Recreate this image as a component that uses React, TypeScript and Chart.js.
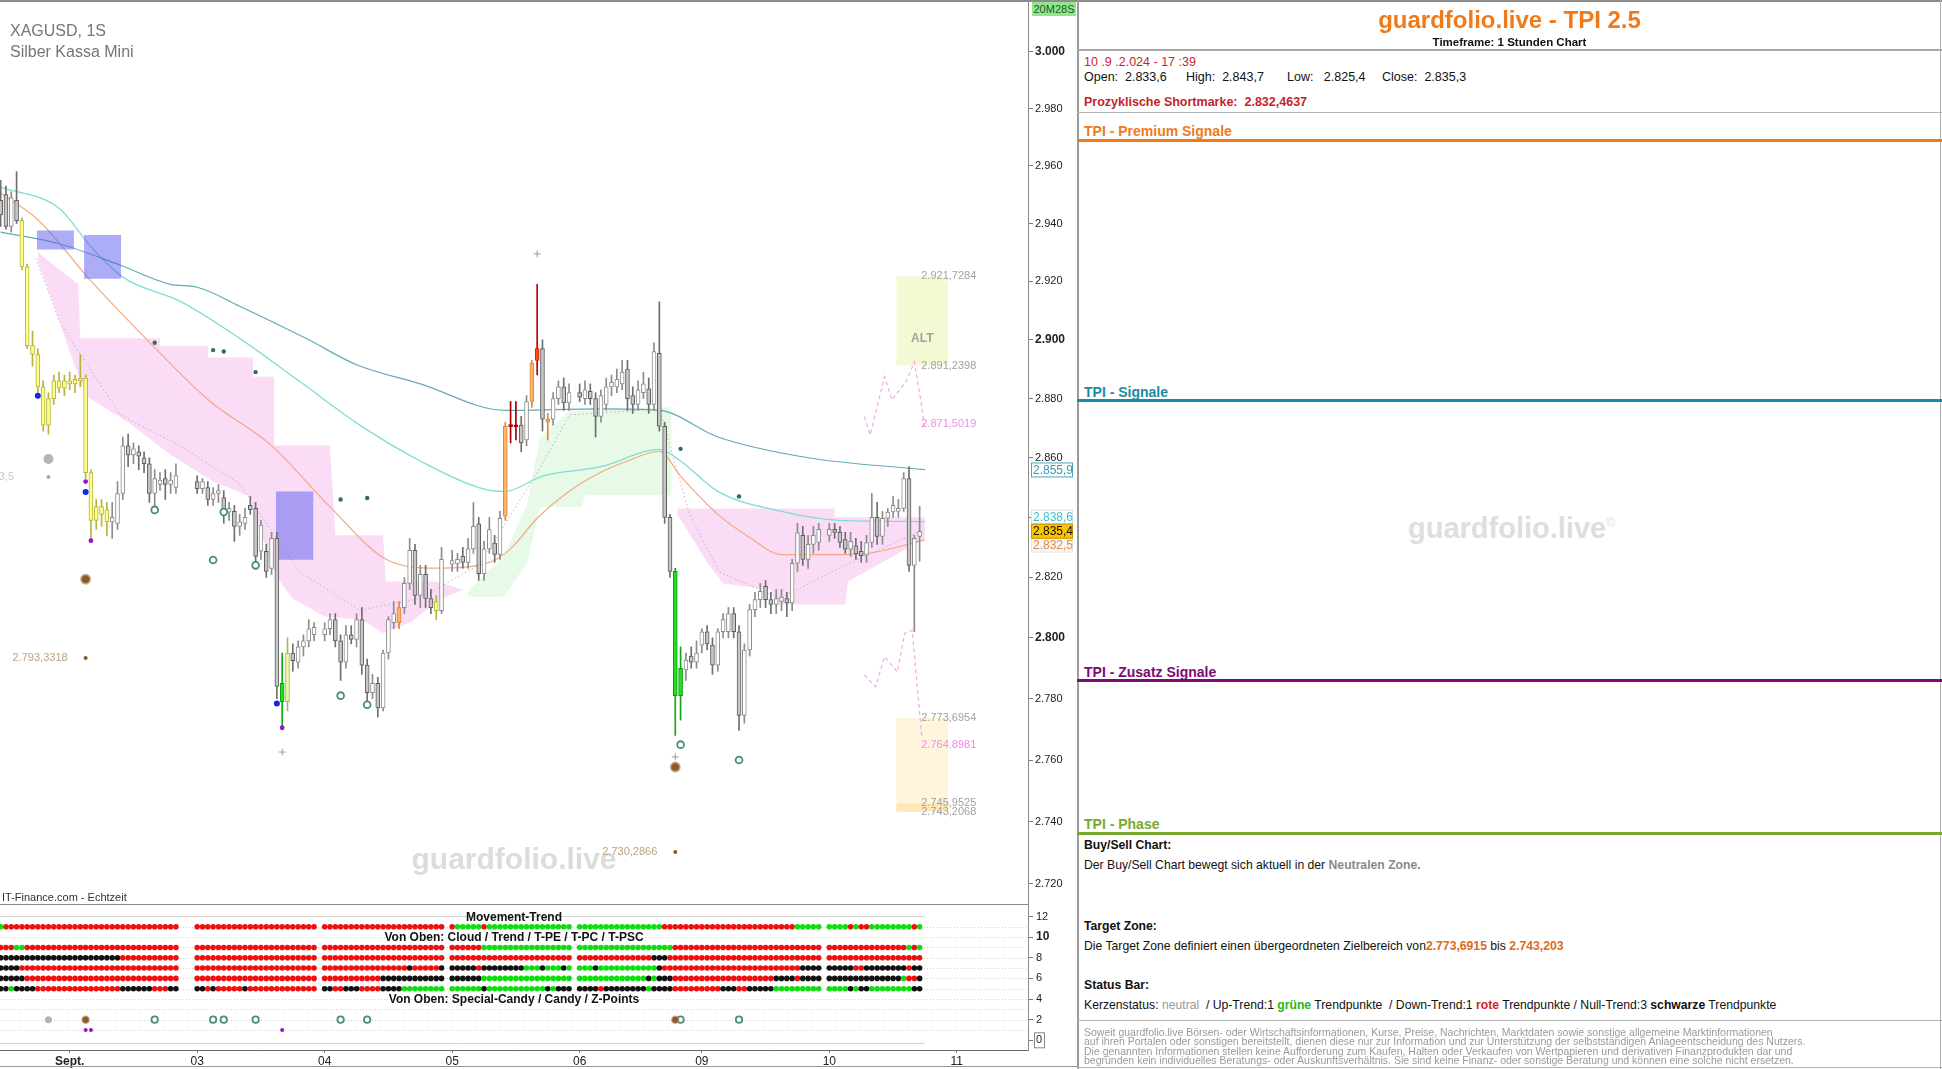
import React, { useEffect, useRef } from "react";
import { Chart, registerables } from "chart.js";

Chart.register(...registerables);

const FONT = '"Liberation Sans", Arial, Helvetica, sans-serif';
Chart.defaults.font.family = FONT;

type OHLC = [number, number, number, number]; // open, high, low, close
type Pt = [number, number]; // slot, price
type Run = [number, number, string]; // from slot, to slot, colour code

// ---------------- price data (hourly slots) ----------------
const candlesAug30Sep02: OHLC[] = [
  [2948, 2955, 2939, 2943], [2950, 2953, 2938, 2939], [2939, 2951, 2937, 2949], [2948, 2958, 2940, 2941],
  [2941, 2942, 2924, 2925], [2925, 2926, 2897, 2898], [2898, 2903, 2891, 2895], [2895, 2897, 2882, 2884],
  [2884, 2886, 2869, 2871], [2871, 2882, 2868, 2880], [2880, 2888, 2878, 2886], [2886, 2889, 2882, 2883.5],
  [2883.5, 2888, 2881, 2886], [2886, 2889, 2883, 2885], [2885, 2888, 2882, 2886.5], [2886, 2895, 2884, 2887],
  [2887, 2888, 2853, 2855], [2855, 2856, 2833, 2839], [2839, 2846, 2836, 2843.6], [2843.6, 2846, 2837, 2841],
  [2842.5, 2845, 2834, 2838.5], [2838.5, 2845, 2833, 2840], [2838, 2852, 2836, 2848], [2848, 2867, 2846, 2864],
  [2864, 2868, 2857, 2861], [2861, 2865, 2858, 2863], [2862, 2864, 2856, 2860.5], [2860, 2862, 2855, 2858],
  [2858, 2860, 2845, 2848], [2848, 2856, 2842, 2853], [2851, 2855, 2849, 2852.5], [2853, 2856, 2846, 2851],
  [2851, 2855, 2848, 2852.5], [2850, 2858, 2848, 2854],
];
const candlesSep03: OHLC[] = [
  [2852, 2854, 2848, 2849.6], [2849.6, 2853, 2848, 2852], [2850, 2852, 2844, 2846], [2846, 2850, 2844, 2848],
  [2848, 2851, 2845, 2849], [2846.6, 2849, 2838, 2841.7], [2841.7, 2845, 2839, 2843], [2842, 2844, 2832, 2837],
  [2837, 2841, 2834, 2838.5], [2838, 2843, 2836, 2840], [2844, 2847, 2841, 2842.6], [2843, 2845, 2824, 2827],
  [2828.7, 2839, 2826, 2837.4], [2828.7, 2831, 2820, 2822], [2823, 2835, 2821, 2833], [2833, 2835, 2780, 2784],
  [2785, 2795, 2770, 2779], [2779, 2800, 2776, 2795], [2795, 2798, 2789, 2792.5], [2792, 2799, 2790, 2797],
  [2797, 2801, 2794, 2799], [2799, 2806, 2797, 2803], [2801, 2805, 2799, 2803.5],
];
const candlesSep04: OHLC[] = [
  [2801, 2805, 2799, 2803], [2803, 2808, 2801, 2806], [2806, 2808, 2797, 2799], [2799, 2801, 2786, 2792],
  [2792, 2804, 2790, 2801], [2801, 2804, 2798, 2799.5], [2799.5, 2808, 2797, 2806], [2806, 2810, 2788, 2791],
  [2791, 2793, 2778, 2782], [2782, 2788, 2780, 2785], [2785, 2787, 2774, 2777], [2777, 2796, 2776, 2795],
  [2795, 2807, 2793, 2806], [2805, 2812, 2803, 2808], [2805, 2812, 2803, 2810], [2810, 2820, 2808, 2818],
  [2818, 2833, 2816, 2829], [2829, 2831, 2811, 2814], [2814, 2824, 2810, 2821], [2821, 2824, 2810, 2813],
  [2813, 2816, 2808, 2810], [2812, 2814, 2806, 2809], [2809, 2830, 2808, 2826],
];
const candlesSep05: OHLC[] = [
  [2824.4, 2829, 2822, 2825.6], [2824.5, 2828, 2822, 2826], [2827, 2830, 2823, 2825], [2825, 2833, 2823, 2829.5],
  [2829.5, 2845, 2828, 2837], [2837.8, 2840, 2819, 2821.2], [2821.2, 2832, 2819, 2829.5], [2829.5, 2840, 2828, 2835.9],
  [2831.4, 2834, 2825, 2827.6], [2827.6, 2842, 2826, 2839.7], [2840.4, 2872, 2839, 2870.6], [2870.5, 2879, 2865, 2871.2],
  [2871, 2879, 2866, 2870.4], [2871, 2874, 2862, 2865], [2866, 2881, 2864, 2879], [2879, 2893, 2877, 2892],
  [2893, 2919, 2888, 2897], [2897, 2900, 2869, 2873], [2873, 2875, 2866, 2872], [2873, 2882, 2871, 2880],
  [2880, 2886, 2878, 2884], [2884, 2887, 2876, 2878.5], [2878.5, 2885, 2876, 2882],
];
const candlesSep06: OHLC[] = [
  [2882, 2885, 2879, 2880.5], [2880, 2886, 2878, 2883], [2882.5, 2885, 2878, 2880], [2880, 2882, 2867, 2874],
  [2874, 2883, 2872, 2881], [2878, 2887, 2876, 2884], [2884, 2888, 2881, 2885.5], [2884, 2890, 2882, 2886.5],
  [2885, 2893, 2883, 2889], [2890, 2893, 2876, 2880], [2881, 2884, 2875, 2878], [2878, 2886, 2876, 2883],
  [2882, 2889, 2880, 2885], [2883.3, 2887, 2875, 2878], [2878, 2899, 2876, 2896], [2895.4, 2913, 2869, 2870.7],
  [2870.6, 2872, 2838, 2840], [2840, 2841, 2820, 2822], [2822, 2823, 2768, 2781], [2781, 2797, 2773, 2790],
  [2789.4, 2795, 2786, 2792.7], [2794, 2797, 2790, 2792], [2792, 2799, 2790, 2795],
];
const candlesSep09: OHLC[] = [
  [2797.6, 2803, 2795, 2802], [2802, 2804, 2796, 2798], [2797.6, 2800, 2788, 2791], [2791, 2803, 2789, 2802],
  [2802, 2808, 2800, 2806], [2802, 2810, 2800, 2808], [2808, 2810, 2800, 2802], [2802, 2804, 2769.6, 2774.5],
  [2774.5, 2798, 2772, 2796], [2796, 2811, 2794, 2809.3], [2809.3, 2815, 2807, 2812.6], [2812.6, 2818, 2810, 2815.4],
  [2817, 2819, 2810, 2812.6], [2812.6, 2815, 2808, 2811], [2811, 2816, 2808, 2813], [2812, 2816, 2809, 2813.5],
  [2813, 2815, 2807, 2811.5], [2811.5, 2826, 2809, 2824.7], [2824.7, 2838, 2822, 2834.8], [2834, 2837, 2824, 2826],
  [2826, 2834, 2823, 2831], [2831, 2837, 2828, 2834], [2831.6, 2838, 2829, 2836],
];
const candlesSep10: OHLC[] = [
  [2834, 2838, 2832, 2836], [2836, 2838, 2833, 2835], [2835, 2837, 2830, 2831.6], [2832.6, 2835, 2828, 2829.4],
  [2829.4, 2835, 2827, 2832], [2830.5, 2833, 2826, 2827.8], [2828.7, 2832, 2825, 2827.2], [2827.5, 2834, 2825, 2831.6],
  [2831.6, 2848, 2830, 2840], [2840, 2845, 2831, 2833.6], [2833.6, 2842, 2831, 2839.7], [2839.7, 2843, 2837, 2841.8],
  [2841.8, 2847, 2840, 2844], [2842, 2846, 2840, 2843], [2843, 2855, 2842, 2853], [2853, 2857, 2822, 2824],
  [2824, 2834, 2802, 2833], [2833.6, 2843.7, 2825.4, 2835.3],
];
const segmentStartSlots = [0, 37, 61, 85, 109, 132, 156];
const gapSlots = [34, 35, 36, 60, 84, 108, 155];

// candles coloured by the indicator
const yellowSlots = [4, 5, 6, 7, 8, 9, 10, 11, 12, 13, 14, 15, 16, 17, 18, 19, 20, 82];
const greenSlots = [53, 127, 128];
const limeSlots = [54];
const orangeSlots = [75, 95, 100, 103];
const redSlots = [101];
const darkRedSlots = [96, 97];

// moving averages
const maSlowPts: Pt[] = [[0, 2937], [11, 2933], [22, 2926], [32, 2919], [37, 2918], [45, 2911.5], [58, 2900], [67, 2891.5], [79, 2885], [95, 2876], [113, 2876.5], [124, 2876], [135, 2867], [152, 2860], [174, 2856]];
const maMidPts: Pt[] = [[0, 2952.6], [11, 2945.3], [17, 2932], [23, 2921.5], [34, 2913], [45, 2900.5], [56, 2886.2], [68, 2870.6], [79, 2858.9], [90, 2850], [95, 2848.7], [102, 2853.8], [113, 2857], [124, 2862.8], [128, 2858.9], [135, 2848.7], [147, 2842], [158, 2839], [174, 2838.6]];
const maFastPts: Pt[] = [[0, 2950.6], [7, 2941.3], [17, 2920.2], [28, 2899.2], [39, 2879.7], [51, 2864.1], [62, 2843.5], [73, 2825.6], [82, 2823.1], [92, 2825], [96, 2829.5], [101, 2839.7], [107, 2848.7], [113, 2855.1], [118, 2858.9], [124, 2862.2], [128, 2853.8], [135, 2841], [141, 2833.3], [147, 2827.6], [158, 2827.6], [164, 2828.2], [174, 2832.5]];
const dottedPts: Pt[] = [[6.6, 2928], [11.2, 2905.7], [22.5, 2874.5], [33.7, 2864.1], [45, 2851.2], [56.3, 2821.8], [67.6, 2809.1], [78.9, 2813], [90.2, 2824.4], [101.5, 2856.4], [107.1, 2874.5], [124, 2876.4], [129.7, 2841], [135.3, 2821.8], [146.6, 2813], [157.9, 2823.1], [173.7, 2835.9]];

// clouds
const pinkCloud1Top: Pt[] = [[7, 2930], [14.6, 2919], [15, 2900.5], [30, 2900.5], [30, 2898], [39, 2898], [39, 2894], [47.5, 2894], [47.5, 2887.4], [51.5, 2887.4], [51.5, 2864.1], [62, 2864.1], [63, 2834], [72, 2834], [72.5, 2818.6], [82, 2818.6], [87, 2816]];
const pinkCloud1Bottom: Pt[] = [[7, 2927], [10, 2912], [13, 2896], [16, 2881], [24, 2872], [32, 2861], [40, 2852], [47, 2847], [49, 2835], [52, 2820], [55, 2813], [61, 2807], [68, 2806], [72, 2801.5], [77, 2805], [83, 2813], [87, 2815.8]];
const pinkCloud2Top: Pt[] = [[127.4, 2843], [157, 2843], [157, 2840], [174, 2840]];
const pinkCloud2Bottom: Pt[] = [[127.4, 2841], [133, 2825], [136, 2818], [145, 2816], [146, 2811], [159, 2811], [159.5, 2818.6], [164, 2823], [174, 2833]];
const greenCloudTop: Pt[] = [[88, 2815.5], [94.7, 2826.9], [99.2, 2844.8], [101.5, 2866.7], [107.1, 2875.8], [126.3, 2877.1]];
const greenCloudBottom: Pt[] = [[88, 2813.6], [94.7, 2813.6], [99.2, 2825], [101.5, 2843.5], [109.4, 2843.5], [109.9, 2847.4], [126.3, 2847.4]];

// boxes: [slotFrom, slotTo, low, high]
const boxBlue1 = [6.8, 13.8, 2931.0, 2937.6];
const boxBlue2 = [15.7, 22.7, 2920.9, 2936.0];
const boxBlue3 = [51.8, 58.9, 2825.9, 2848.7];
const boxAlt = [168.6, 178.4, 2891.2398, 2921.7284];
const boxTarget = [168.6, 178.4, 2743.2068, 2773.6954];
const boxTargetCore = [168.6, 178.4, 2743.2068, 2745.9525];

// projection paths
const forecastUpper: Pt[] = [[162.6, 2873.9], [163.7, 2867.7], [166.4, 2887.4], [167.8, 2879.5], [170.6, 2886.3], [172, 2892.5], [173.4, 2877.2], [173.9, 2870.6]];
const forecastLower: Pt[] = [[162.6, 2787.8], [164.7, 2783.9], [166.4, 2793.8], [168.8, 2788.8], [170.2, 2801.5], [171.6, 2802.5], [173, 2775.2], [173.4, 2767.6]];

// signal markers
const tealDotSlots = [29, 40, 42, 48, 64, 69, 128, 139];
const tealDotPrices = [2899, 2896.5, 2896, 2889, 2846, 2846.5, 2863, 2847];
const tealRingPrices = [2842.5, 2825.8, 2841.8, 2824, 2781, 2778, 2765, 2760];
const blueDotSlots = [7, 16, 52];
const blueDotPrices = [2881, 2848.5, 2778.4];
const purpleDotSlots = [16, 17, 53];
const purpleDotPrices = [2852, 2832.2, 2770.5];
const grayDotSlot = 9;
const grayDotPrices = [2859.6, 2853.5];
const brownSlots = [16, 127];
const brownBigPrices = [2819.4, 2757.7];
const brownSmallPrices = [2793.3318, 2730.2866];
const plusSlots = [101, 53, 127];
const plusPrices = [2929.5, 2762.6, 2761];

// level labels
const zoneLevels = [2921.7284, 2891.2398, 2773.6954, 2745.9525, 2743.2068];
const forecastLevels = [2871.5019, 2764.8981];
const cutLevel = 2853.5;
const axisSlow = 2855.9;
const axisMid = 2838.6;
const axisLast = 2835.4;
const axisFast = 2832.5;
const priceTicks = [2720, 2740, 2760, 2780, 2800, 2820, 2840, 2860, 2880, 2900, 2920, 2940, 2960, 2980, 3000];

// axis
const dayTickSlots = [13, 37, 61, 85, 109, 132, 156, 180];
const dayTickLabels = ["Sept.", "03", "04", "05", "06", "09", "10", "11"];
const indicatorTicks = [0, 2, 4, 6, 8, 10, 12];

// status bar rows
const rowMovement: Run[] = [[0, 0, "g"], [1, 84, "r"], [85, 85, "r"], [86, 90, "g"], [91, 91, "r"], [92, 124, "g"], [125, 149, "r"], [150, 159, "g"], [160, 160, "r"], [161, 161, "g"], [162, 163, "r"], [164, 171, "g"], [172, 172, "r"], [173, 173, "g"]];
const rowCloud: Run[] = [[0, 2, "r"], [3, 4, "g"], [5, 90, "r"], [91, 126, "g"], [127, 170, "r"], [171, 171, "g"], [172, 172, "r"], [173, 173, "g"]];
const rowTrend: Run[] = [[0, 22, "k"], [23, 122, "r"], [123, 125, "k"], [126, 173, "r"]];
const rowTPE: Run[] = [[0, 3, "k"], [4, 76, "r"], [77, 77, "k"], [78, 82, "r"], [83, 89, "k"], [90, 90, "r"], [91, 98, "k"], [99, 101, "g"], [102, 102, "k"], [103, 105, "g"], [106, 106, "k"], [107, 111, "g"], [112, 112, "k"], [113, 123, "g"], [124, 124, "k"], [125, 150, "r"], [151, 160, "k"], [161, 162, "r"], [163, 170, "k"], [171, 171, "r"], [172, 173, "k"]];
const rowTPC: Run[] = [[0, 4, "k"], [5, 71, "r"], [72, 90, "k"], [91, 121, "g"], [122, 122, "k"], [123, 123, "g"], [124, 126, "k"], [127, 145, "r"], [146, 149, "k"], [150, 150, "r"], [151, 169, "k"], [170, 170, "g"], [171, 172, "r"], [173, 173, "k"]];
const rowTPSC: Run[] = [[0, 1, "k"], [2, 2, "g"], [3, 6, "k"], [7, 22, "r"], [23, 28, "k"], [29, 31, "r"], [32, 38, "k"], [39, 39, "r"], [40, 40, "k"], [41, 45, "r"], [46, 46, "k"], [47, 59, "r"], [61, 62, "k"], [63, 64, "r"], [65, 67, "k"], [68, 71, "r"], [72, 75, "k"], [76, 90, "g"], [91, 91, "k"], [92, 102, "g"], [103, 103, "k"], [104, 104, "g"], [105, 112, "k"], [113, 113, "r"], [114, 121, "k"], [122, 122, "g"], [123, 126, "k"], [127, 135, "r"], [136, 138, "k"], [139, 140, "r"], [141, 145, "k"], [146, 159, "g"], [160, 160, "k"], [161, 161, "g"], [162, 163, "k"], [164, 171, "g"], [172, 173, "k"]];
const statusRows: [Run[], number][] = [[rowMovement, 11], [rowCloud, 9], [rowTrend, 8], [rowTPE, 7], [rowTPC, 6], [rowTPSC, 5]];
const candyRowPurpleSlots = [16, 17, 53];

// ---------------- helpers ----------------
const X_MIN = -0.12;
const X_MAX = 193.4;
const Y_MIN = 2713.6;
const Y_MAX = 3018.4;

function fmtDE(v: number, d: number) {
  const s = v.toFixed(d);
  const [i, f] = s.split(".");
  const ii = i.replace(/\B(?=(\d{3})+(?!\d))/g, ".");
  return f ? ii + "," + f : ii;
}

const PAL: any = {
  bull: { fill: "#ffffff", border: "#8c8c8c", wick: "#8c8c8c" },
  bear: { fill: "#c6c6c6", border: "#5c5c5c", wick: "#6e6e6e" },
  yellow: { fill: "#ffff8a", border: "#b5b53a", wick: "#b5b53a" },
  green: { fill: "#1ee01e", border: "#0f9a0f", wick: "#12a812" },
  lime: { fill: "#eaf7a6", border: "#a8b85e", wick: "#a8b85e" },
  orange: { fill: "#ffb567", border: "#de8834", wick: "#de8834" },
  red: { fill: "#ff4a1e", border: "#c82000", wick: "#c00000" },
  darkred: { fill: "#b01010", border: "#a00000", wick: "#a00000" },
};
const DOT: any = { r: "#ee1010", g: "#10dd10", k: "#111111" };

function tintOf(slot: number, bull: boolean) {
  if (yellowSlots.includes(slot)) return PAL.yellow;
  if (greenSlots.includes(slot)) return PAL.green;
  if (limeSlots.includes(slot)) return PAL.lime;
  if (orangeSlots.includes(slot)) return PAL.orange;
  if (redSlots.includes(slot)) return PAL.red;
  if (darkRedSlots.includes(slot)) return PAL.darkred;
  return bull ? PAL.bull : PAL.bear;
}

const pts = (a: Pt[]) => a.map(([x, y]) => ({ x, y }));

function lineDs(a: Pt[], color: string, width: number, order: number, extra: any = {}) {
  return { type: "line", data: pts(a), borderColor: color, borderWidth: width, pointRadius: 0, fill: false, tension: 0, order, ...extra };
}
function areaDs(top: Pt[], bottom: Pt[], color: string, order: number) {
  return [
    { type: "line", data: pts(top), borderColor: "transparent", borderWidth: 0, pointRadius: 0, fill: false, order },
    { type: "line", data: pts(bottom), borderColor: "transparent", borderWidth: 0, pointRadius: 0, fill: "-1", backgroundColor: color, order },
  ];
}
function boxDs(b: number[], color: string, order: number) {
  return areaDs([[b[0], b[3]], [b[1], b[3]]], [[b[0], b[2]], [b[1], b[2]]], color, order);
}
function markerDs(xs: number[], ys: number[], opts: any, order = 5) {
  return { type: "line", showLine: false, data: xs.map((x, i) => ({ x, y: ys[i] })), order, ...opts };
}
const noPad = (s: any) => {
  s.paddingTop = 0;
  s.paddingBottom = 0;
  s.paddingLeft = 0;
  s.paddingRight = 0;
};

function buildMainConfig(): any {
  const segs = [candlesAug30Sep02, candlesSep03, candlesSep04, candlesSep05, candlesSep06, candlesSep09, candlesSep10];
  const candles = segs.flatMap((arr, si) => arr.map((c, i) => ({ slot: segmentStartSlots[si] + i, o: c[0], h: c[1], l: c[2], c: c[3] })));
  const tints = candles.map((c) => tintOf(c.slot, c.c >= c.o));

  const datasets: any[] = [
    ...areaDs(pinkCloud1Top, pinkCloud1Bottom, "#fadcf6", 100),
    ...areaDs(pinkCloud2Top, pinkCloud2Bottom, "#fadcf6", 100),
    ...areaDs(greenCloudTop, greenCloudBottom, "#e7f9e7", 100),
    ...boxDs(boxAlt, "#f5f9d3", 95),
    ...boxDs(boxTarget, "#fff4dc", 95),
    ...boxDs(boxTargetCore, "#ffe8b6", 94),
    lineDs(dottedPts, "#c9b0c6", 1, 60, { borderDash: [1.5, 2.5] }),
    lineDs(maSlowPts, "#62aab8", 1.2, 50, { cubicInterpolationMode: "monotone" }),
    lineDs(maMidPts, "#82dcd6", 1.3, 50, { cubicInterpolationMode: "monotone" }),
    lineDs(maFastPts, "#f2a97e", 1.2, 50, { cubicInterpolationMode: "monotone" }),
    lineDs(forecastUpper, "#f2a8ea", 1.2, 45, { borderDash: [4, 3] }),
    lineDs(forecastLower, "#f2a8ea", 1.2, 45, { borderDash: [4, 3] }),
    ...boxDs(boxBlue1, "rgba(95,95,240,0.52)", 40),
    ...boxDs(boxBlue2, "rgba(95,95,240,0.52)", 40),
    ...boxDs(boxBlue3, "rgba(95,95,240,0.52)", 40),
    {
      type: "bar", data: candles.map((c) => ({ x: c.slot, y: [c.l, c.h] })),
      backgroundColor: tints.map((t) => t.wick), borderWidth: 0, barThickness: 1, grouped: false, order: 20,
    },
    {
      type: "bar", data: candles.map((c) => ({ x: c.slot, y: [Math.min(c.o, c.c), Math.max(c.o, c.c)] })),
      backgroundColor: tints.map((t) => t.fill), borderColor: tints.map((t) => t.border), borderWidth: 1,
      borderSkipped: false, barThickness: 4, minBarLength: 2, grouped: false, order: 15,
    },
    markerDs(tealDotSlots, tealDotPrices, { pointRadius: 2.2, pointBackgroundColor: "#2d6d68", pointBorderWidth: 0 }),
    markerDs(tealDotSlots, tealRingPrices, { pointRadius: 3.4, pointBackgroundColor: "#ffffff", pointBorderColor: "#4a8c7e", pointBorderWidth: 1.8 }),
    markerDs(blueDotSlots, blueDotPrices, { pointRadius: 3, pointBackgroundColor: "#1525ee", pointBorderWidth: 0 }),
    markerDs(purpleDotSlots, purpleDotPrices, { pointRadius: 2.4, pointBackgroundColor: "#9a12c2", pointBorderWidth: 0 }),
    markerDs([grayDotSlot], [grayDotPrices[0]], { pointRadius: 5, pointBackgroundColor: "#b4b4b4", pointBorderWidth: 0 }),
    markerDs([grayDotSlot], [grayDotPrices[1]], { pointRadius: 2, pointBackgroundColor: "#aaaaaa", pointBorderWidth: 0 }),
    markerDs(brownSlots, brownBigPrices, { pointRadius: 4.5, pointBackgroundColor: "#8b5a2b", pointBorderColor: "rgba(190,150,110,0.7)", pointBorderWidth: 2 }),
    markerDs(brownSlots, brownSmallPrices, { pointRadius: 2, pointBackgroundColor: "#8b5a2b", pointBorderWidth: 0 }),
    markerDs(plusSlots, plusPrices, { pointStyle: "cross", pointRadius: 3.5, pointBorderColor: "#9a9a9a", pointBorderWidth: 1 }, 4),
  ];

  const decor = {
    id: "mainDecor",
    beforeDatasetsDraw(chart: any) {
      const { ctx } = chart;
      ctx.save();
      ctx.font = `bold 30px ${FONT}`;
      ctx.fillStyle = "#dcdcdc";
      ctx.textAlign = "center";
      ctx.textBaseline = "middle";
      ctx.fillText("guardfolio.live", 514, 861);
      ctx.restore();
    },
    afterDatasetsDraw(chart: any) {
      const { ctx, scales } = chart;
      const x = scales.x, y = scales.y;
      ctx.save();
      ctx.textBaseline = "middle";
      ctx.font = `11px ${FONT}`;
      ctx.textAlign = "left";
      const lx = x.getPixelForValue(173.3);
      zoneLevels.forEach((v) => {
        ctx.fillStyle = "#a2a2a2";
        ctx.fillText(fmtDE(v, 4), lx, y.getPixelForValue(v));
      });
      forecastLevels.forEach((v) => {
        ctx.fillStyle = "#f08ee6";
        ctx.fillText(fmtDE(v, 4), lx, y.getPixelForValue(v));
      });
      ctx.font = `bold 12px ${FONT}`;
      ctx.fillStyle = "#a0a0a0";
      ctx.textAlign = "center";
      ctx.fillText("ALT", x.getPixelForValue(173.5), y.getPixelForValue(2900.5));
      ctx.font = `11px ${FONT}`;
      ctx.textAlign = "right";
      ctx.fillStyle = "#baa27e";
      brownSlots.forEach((s, i) => {
        ctx.fillText(fmtDE(brownSmallPrices[i], 4), x.getPixelForValue(s) - 18, y.getPixelForValue(brownSmallPrices[i]));
      });
      ctx.fillStyle = "#c8c8c8";
      ctx.fillText(fmtDE(cutLevel, 1), 14, y.getPixelForValue(cutLevel));
      ctx.restore();
    },
    afterDraw(chart: any) {
      const { ctx, scales, chartArea } = chart;
      const y = scales.y;
      const left = chartArea.right + 3;
      const w = 42;
      ctx.save();
      ctx.textBaseline = "middle";
      ctx.textAlign = "left";
      const tag = (val: number, py: number, bg: string, border: string, fg: string) => {
        ctx.fillStyle = bg;
        ctx.fillRect(left, py - 7.5, w, 15);
        ctx.strokeStyle = border;
        ctx.lineWidth = 1;
        ctx.strokeRect(left + 0.5, py - 7, w - 1, 14);
        ctx.fillStyle = fg;
        ctx.font = `12px ${FONT}`;
        ctx.fillText(fmtDE(val, 1), left + 2, py + 0.5);
      };
      const pLast = y.getPixelForValue(axisLast);
      const pMid = Math.min(y.getPixelForValue(axisMid), pLast - 14);
      const pFast = Math.max(y.getPixelForValue(axisFast), pLast + 14);
      tag(axisSlow, y.getPixelForValue(axisSlow), "#ffffff", "#4aa6c0", "#3a98b6");
      tag(axisMid, pMid, "#ffffff", "#cfe3ea", "#3cc2cc");
      tag(axisFast, pFast, "#f6f6f6", "#e6e6e6", "#e8894a");
      tag(axisLast, pLast, "#ffc400", "#c99400", "#111111");
      ctx.restore();
    },
  };

  return {
    type: "bar",
    data: { datasets },
    plugins: [decor],
    options: {
      responsive: false,
      animation: false,
      events: [],
      layout: { padding: 0, autoPadding: false },
      plugins: { legend: { display: false }, tooltip: { enabled: false } },
      scales: {
        x: { type: "linear", min: X_MIN, max: X_MAX, offset: false, display: false },
        y: {
          type: "logarithmic",
          position: "right",
          min: Y_MIN,
          max: Y_MAX,
          afterBuildTicks: (s: any) => { s.ticks = priceTicks.map((v) => ({ value: v })); },
          afterFit: (s: any) => { s.width = 49; noPad(s); },
          grid: { drawOnChartArea: false, drawTicks: true, tickLength: 5, color: "#777" },
          border: { display: true, color: "#8a8a8a" },
          ticks: {
            autoSkip: false,
            padding: 2,
            color: "#222",
            callback: (v: any) => fmtDE(Number(v), 0),
            font: (ctx: any) => (ctx.tick && ctx.tick.value % 100 === 0 ? { size: 12, weight: "bold" } : { size: 11 }),
          },
        },
      },
    },
  };
}

function expandRun(runs: Run[], value: number) {
  const data: any[] = [];
  const colors: string[] = [];
  runs.forEach(([a, b, c]) => {
    for (let s = a; s <= b; s++) {
      if (gapSlots.includes(s)) continue;
      data.push({ x: s, y: value });
      colors.push(DOT[c]);
    }
  });
  return { data, colors };
}

function buildIndicatorConfig(): any {
  const datasets: any[] = statusRows.map(([runs, v]) => {
    const { data, colors } = expandRun(runs, v);
    return { type: "line", showLine: false, data, pointRadius: 2.8, pointBackgroundColor: colors, pointBorderWidth: 0 };
  });
  datasets.push(markerDs([grayDotSlot], [2], { pointRadius: 3.5, pointBackgroundColor: "#b4b4b4", pointBorderWidth: 0 }));
  datasets.push(markerDs(brownSlots, [2, 2], { pointRadius: 3.5, pointBackgroundColor: "#8b5a2b", pointBorderColor: "rgba(190,150,110,0.7)", pointBorderWidth: 1.5 }));
  datasets.push(markerDs(tealDotSlots, tealDotSlots.map(() => 2), { pointRadius: 3.2, pointBackgroundColor: "#ffffff", pointBorderColor: "#4a8c7e", pointBorderWidth: 1.8 }));
  datasets.push(markerDs(candyRowPurpleSlots, candyRowPurpleSlots.map(() => 1), { pointRadius: 2, pointBackgroundColor: "#9a12c2", pointBorderWidth: 0 }));

  const decor = {
    id: "indDecor",
    beforeDatasetsDraw(chart: any) {
      const { ctx, scales, chartArea } = chart;
      const x = scales.x, y = scales.y;
      ctx.save();
      ctx.strokeStyle = "#cfcfcf";
      ctx.lineWidth = 1;
      ctx.setLineDash([1, 2]);
      for (let v = 1; v <= 11; v++) {
        const py = Math.round(y.getPixelForValue(v)) + 0.5;
        ctx.beginPath();
        ctx.moveTo(chartArea.left, py);
        ctx.lineTo(chartArea.right, py);
        ctx.stroke();
      }
      ctx.setLineDash([]);
      ctx.strokeStyle = "#d4d4d4";
      [12, -0.3].forEach((v) => {
        const py = Math.round(y.getPixelForValue(v)) + 0.5;
        ctx.beginPath();
        ctx.moveTo(chartArea.left, py);
        ctx.lineTo(x.getPixelForValue(174), py);
        ctx.stroke();
      });
      ctx.restore();
    },
    afterDatasetsDraw(chart: any) {
      const { ctx, scales, chartArea } = chart;
      const y = scales.y;
      const cx = (chartArea.left + chartArea.right) / 2;
      ctx.save();
      ctx.font = `bold 12px ${FONT}`;
      ctx.fillStyle = "#111";
      ctx.textAlign = "center";
      ctx.textBaseline = "middle";
      ctx.fillText("Movement-Trend", cx, y.getPixelForValue(11.85));
      ctx.fillText("Von Oben: Cloud / Trend / T-PE / T-PC / T-PSC", cx, y.getPixelForValue(9.96));
      ctx.fillText("Von Oben: Special-Candy / Candy / Z-Points", cx, y.getPixelForValue(3.96));
      ctx.strokeStyle = "#8a8a8a";
      ctx.beginPath();
      ctx.moveTo(0, 0.5);
      ctx.lineTo(chartArea.right, 0.5);
      ctx.stroke();
      ctx.restore();
    },
    afterDraw(chart: any) {
      const { ctx, scales, chartArea } = chart;
      const y = scales.y;
      ctx.save();
      const py = y.getPixelForValue(0);
      ctx.strokeStyle = "#888";
      ctx.strokeRect(chartArea.right + 6.5, py - 7.5, 10, 15);
      ctx.restore();
    },
  };

  return {
    type: "line",
    data: { datasets },
    plugins: [decor],
    options: {
      responsive: false,
      animation: false,
      events: [],
      layout: { padding: 0, autoPadding: false },
      plugins: { legend: { display: false }, tooltip: { enabled: false } },
      scales: {
        x: {
          type: "linear", min: X_MIN, max: X_MAX, offset: false,
          afterBuildTicks: (s: any) => { s.ticks = dayTickSlots.map((v) => ({ value: v })); },
          afterFit: (s: any) => { s.height = 19; noPad(s); },
          grid: { drawOnChartArea: false, drawTicks: true, tickLength: 3, color: "#777" },
          border: { display: true, color: "#666" },
          ticks: {
            autoSkip: false, maxRotation: 0, padding: 1, color: "#222",
            callback: (_v: any, i: number) => dayTickLabels[i],
            font: (ctx: any) => (ctx.index === 0 ? { size: 12, weight: "bold" } : { size: 12 }),
          },
        },
        y: {
          type: "linear", position: "right", min: -0.94, max: 13.21,
          afterBuildTicks: (s: any) => { s.ticks = indicatorTicks.map((v) => ({ value: v })); },
          afterFit: (s: any) => { s.width = 49; noPad(s); },
          grid: { drawOnChartArea: false, drawTicks: true, tickLength: 5, color: "#777" },
          border: { display: true, color: "#8a8a8a" },
          ticks: {
            autoSkip: false, padding: 3, color: "#222",
            callback: (v: any) => String(v),
            font: (ctx: any) => (ctx.tick && ctx.tick.value === 10 ? { size: 12, weight: "bold" } : { size: 11 }),
          },
        },
      },
    },
  };
}

// ---------------- HTML helpers ----------------
function Txt(props: any) {
  const { x, y, size, bold, color = "#111", children, center, width } = props;
  const lh = Math.round(size * 1.25);
  return (
    <div
      style={{
        position: "absolute", left: x, top: y - lh / 2, width, textAlign: center ? "center" : "left",
        fontSize: size, lineHeight: `${lh}px`, fontWeight: bold ? 700 : 400, color, whiteSpace: "pre",
      }}
    >
      {children}
    </div>
  );
}
function HLine(props: any) {
  const { x, y, w, h = 1, color } = props;
  return <div style={{ position: "absolute", left: x, top: y, width: w, height: h, background: color }} />;
}

const PX = 1077; // panel left
const PL = 1084; // panel text left
const BODY = 12.2;

export default function App() {
  const mainRef = useRef<HTMLCanvasElement>(null);
  const indRef = useRef<HTMLCanvasElement>(null);

  useEffect(() => {
    const main = new Chart(mainRef.current as any, buildMainConfig());
    const ind = new Chart(indRef.current as any, buildIndicatorConfig());
    return () => {
      main.destroy();
      ind.destroy();
    };
  }, []);

  return (
    <div style={{ position: "fixed", left: 0, top: 0, width: 1942, height: 1069, background: "#fff", overflow: "hidden", fontFamily: FONT }}>
      <canvas ref={mainRef} width={1077} height={904} style={{ position: "absolute", left: 0, top: 0, width: 1077, height: 904 }} />
      <canvas ref={indRef} width={1077} height={165} style={{ position: "absolute", left: 0, top: 904, width: 1077, height: 165 }} />

      {/* chart overlays */}
      <HLine x={0} y={0} w={1942} h={2} color="#8c8c8c" />
      <Txt x={10} y={31} size={16} color="#757575">XAGUSD, 1S</Txt>
      <Txt x={10} y={52} size={16} color="#757575">Silber Kassa Mini</Txt>
      <Txt x={2} y={897} size={11} color="#333">IT-Finance.com - Echtzeit</Txt>
      <div style={{ position: "absolute", left: 1032, top: 2, width: 44, height: 14, background: "#8fe68f", color: "#1d5a1d", fontSize: 11, lineHeight: "14px", textAlign: "center" }}>20M28S</div>
      <HLine x={0} y={1066} w={1077} h={1} color="#999" />

      {/* right panel */}
      <HLine x={PX} y={0} w={2} h={1069} color="#9a9a9a" />
      <HLine x={1940} y={0} w={1} h={1069} color="#b0b0b0" />
      <Txt x={PX} y={20} size={24} bold color="#f07a19" center width={865}>guardfolio.live - TPI 2.5</Txt>
      <Txt x={PX} y={42} size={11.5} bold color="#111" center width={865}>Timeframe: 1 Stunden Chart</Txt>
      <HLine x={PX} y={49} w={865} h={2} color="#a8a8a8" />
      <Txt x={PL} y={62} size={12.5} color="#cc1f2a">10 .9 .2.024 - 17 :39</Txt>
      <Txt x={PL} y={77} size={12.5}>Open:  2.833,6</Txt>
      <Txt x={1186} y={77} size={12.5}>High:  2.843,7</Txt>
      <Txt x={1287} y={77} size={12.5}>Low:   2.825,4</Txt>
      <Txt x={1382} y={77} size={12.5}>Close:  2.835,3</Txt>
      <Txt x={PL} y={102} size={12.5} bold color="#c41f2a">Prozyklische Shortmarke:  2.832,4637</Txt>
      <HLine x={PX} y={112} w={865} h={1} color="#b4b4b4" />

      <Txt x={PL} y={131} size={14} bold color="#ef7a1a">TPI - Premium Signale</Txt>
      <HLine x={PX} y={139} w={865} h={3} color="#ef7a1a" />
      <Txt x={PL} y={391.5} size={14} bold color="#1a8aa5">TPI - Signale</Txt>
      <HLine x={PX} y={399} w={865} h={3} color="#1a8aa5" />
      <Txt x={PL} y={671.5} size={14} bold color="#7e0a76">TPI - Zusatz Signale</Txt>
      <HLine x={PX} y={679} w={865} h={3} color="#7e0a76" />
      <Txt x={PL} y={824} size={14} bold color="#78a830">TPI - Phase</Txt>
      <HLine x={PX} y={832} w={865} h={3} color="#78a830" />

      <div style={{ position: "absolute", left: 1408, top: 512, fontSize: 29, fontWeight: 700, color: "#dedede", whiteSpace: "nowrap" }}>
        guardfolio.live<sup style={{ fontSize: 12, fontWeight: 400 }}>©</sup>
      </div>

      <Txt x={PL} y={845} size={BODY} bold>Buy/Sell Chart:</Txt>
      <Txt x={PL} y={865} size={BODY}>
        Der Buy/Sell Chart bewegt sich aktuell in der <span style={{ color: "#8a8a8a", fontWeight: 700 }}>Neutralen Zone.</span>
      </Txt>
      <Txt x={PL} y={926.5} size={BODY} bold>Target Zone:</Txt>
      <Txt x={PL} y={946} size={BODY}>
        Die Target Zone definiert einen übergeordneten Zielbereich von<span style={{ color: "#e0691c", fontWeight: 700 }}>2.773,6915</span> bis <span style={{ color: "#e0691c", fontWeight: 700 }}>2.743,203</span>
      </Txt>
      <Txt x={PL} y={985} size={BODY} bold>Status Bar:</Txt>
      <Txt x={PL} y={1005} size={BODY}>
        Kerzenstatus: <span style={{ color: "#9a9a9a" }}>neutral</span>  / Up-Trend:1 <span style={{ color: "#1fb81f", fontWeight: 700 }}>grüne</span> Trendpunkte  / Down-Trend:1 <span style={{ color: "#d81e1e", fontWeight: 700 }}>rote</span> Trendpunkte / Null-Trend:3 <span style={{ fontWeight: 700 }}>schwarze</span> Trendpunkte
      </Txt>
      <HLine x={PX} y={1020} w={865} h={1} color="#b0b0b0" />
      <Txt x={PL} y={1032} size={10.5} color="#9a9a9a">Soweit guardfolio.live Börsen- oder Wirtschaftsinformationen, Kurse, Preise, Nachrichten, Marktdaten sowie sonstige allgemeine Marktinformationen</Txt>
      <Txt x={PL} y={1041.5} size={10.5} color="#9a9a9a">auf ihren Portalen oder sonstigen bereitstellt, dienen diese nur zur Information und zur Unterstützung der selbstständigen Anlageentscheidung des Nutzers.</Txt>
      <Txt x={PL} y={1051} size={10.5} color="#9a9a9a">Die genannten Informationen stellen keine Aufforderung zum Kaufen, Halten oder Verkaufen von Wertpapieren und derivativen Finanzprodukten dar und</Txt>
      <Txt x={PL} y={1060.5} size={10.5} color="#9a9a9a">begründen kein individuelles Beratungs- oder Auskunftsverhältnis. Sie sind keine Finanz- oder sonstige Beratung und können eine solche nicht ersetzen.</Txt>
      <HLine x={PX} y={1067} w={865} h={1} color="#b0b0b0" />
    </div>
  );
}
